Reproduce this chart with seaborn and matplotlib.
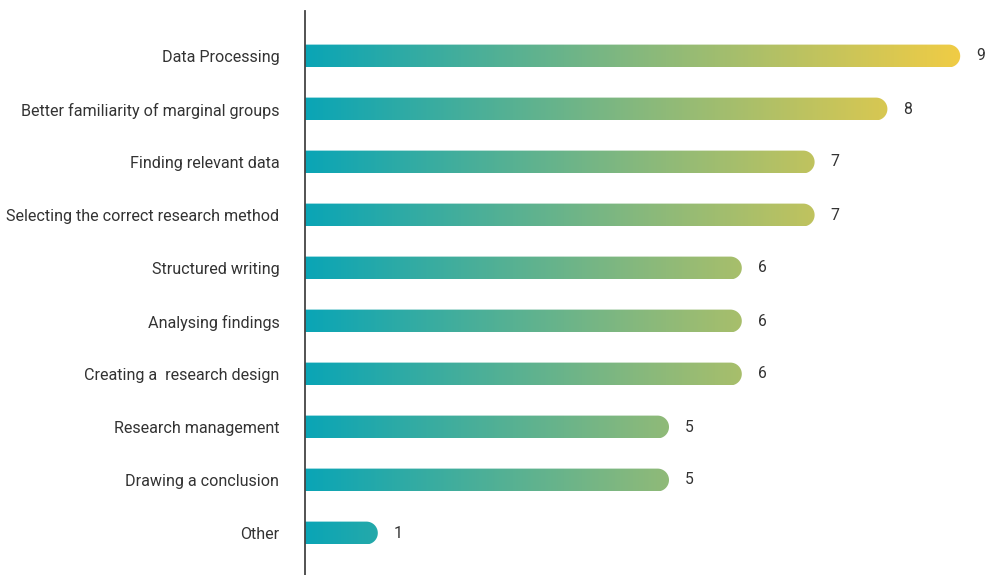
import numpy as np
import pandas as pd
import matplotlib
matplotlib.use("Agg")
import matplotlib.pyplot as plt
import seaborn as sns
from matplotlib.colors import LinearSegmentedColormap
from matplotlib.path import Path
from matplotlib.patches import PathPatch

categories = [
    "Data Processing",
    "Better familiarity of marginal groups",
    "Finding relevant data",
    "Selecting the correct research method",
    "Structured writing",
    "Analysing findings",
    "Creating a  research design",
    "Research management",
    "Drawing a conclusion",
    "Other",
]
values = [9, 8, 7, 7, 6, 6, 6, 5, 5, 1]

sns.set_theme(style="white")
plt.rcParams["font.family"] = ["Roboto", "DejaVu Sans"]

df = pd.DataFrame({"category": categories, "value": values})

fig = plt.figure(figsize=(9.85, 5.75), dpi=100)
ax = fig.add_axes([305 / 985, 0.0, 680 / 985, 1 - 11 / 575])

sns.barplot(data=df, x="value", y="category", orient="h", ax=ax,
            width=0.43, color="#0BA6B6")

xmax = 680 / 72.8
ylim = (9 + 42 / 53, -45 / 53)
ax.set_xlim(0, xmax)
ax.set_ylim(*ylim)

cmap = LinearSegmentedColormap.from_list(
    "tealyellow", [(0.0, "#0AA5B6"), (0.5, "#84B87E"), (1.0, "#F0CC45")])
vmax = max(values)
grad = np.linspace(0, 1, 512).reshape(1, -1)

fig.canvas.draw()
px_per_x = ax.transData.transform((1, 0))[0] - ax.transData.transform((0, 0))[0]
px_per_y = abs(ax.transData.transform((0, 1))[1] - ax.transData.transform((0, 0))[1])

for p in list(ax.patches):
    x0 = p.get_x()
    w = p.get_width()
    y0 = p.get_y()
    h = p.get_height()
    p.set_visible(False)
    x1 = x0 + w
    ry = h / 2
    rx = (ry * px_per_y) / px_per_x
    cy = y0 + ry
    cx = x1 - rx
    theta = np.linspace(-np.pi / 2, np.pi / 2, 60)
    arc_x = cx + rx * np.cos(theta)
    arc_y = cy + ry * np.sin(theta)
    verts = [(x0, y0)] + list(zip(arc_x, arc_y)) + [(x0, y0 + h), (x0, y0)]
    codes = [Path.MOVETO] + [Path.LINETO] * (len(verts) - 2) + [Path.CLOSEPOLY]
    clip = PathPatch(Path(verts, codes), transform=ax.transData,
                     facecolor="none", edgecolor="none")
    ax.add_patch(clip)
    im = ax.imshow(grad, cmap=cmap, aspect="auto",
                   extent=(0, vmax, y0 + h, y0), interpolation="bilinear",
                   zorder=2)
    im.set_clip_path(clip)
    ax.annotate(f"{int(round(w))}", xy=(x1, cy), xytext=(11.5, 0),
                textcoords="offset points", ha="left", va="center",
                fontsize=11.3, color="#333333")

ax.set_xlim(0, xmax)
ax.set_ylim(*ylim)

for s in ["top", "right", "bottom"]:
    ax.spines[s].set_visible(False)
ax.spines["left"].set_color("#444444")
ax.spines["left"].set_linewidth(1.3)
ax.set_xticks([])
ax.set_xlabel("")
ax.set_ylabel("")
ax.tick_params(axis="y", length=0, pad=18.5, labelsize=11.6, labelcolor="#333333")
ax.grid(False)

fig.savefig("out.png", dpi=100)
